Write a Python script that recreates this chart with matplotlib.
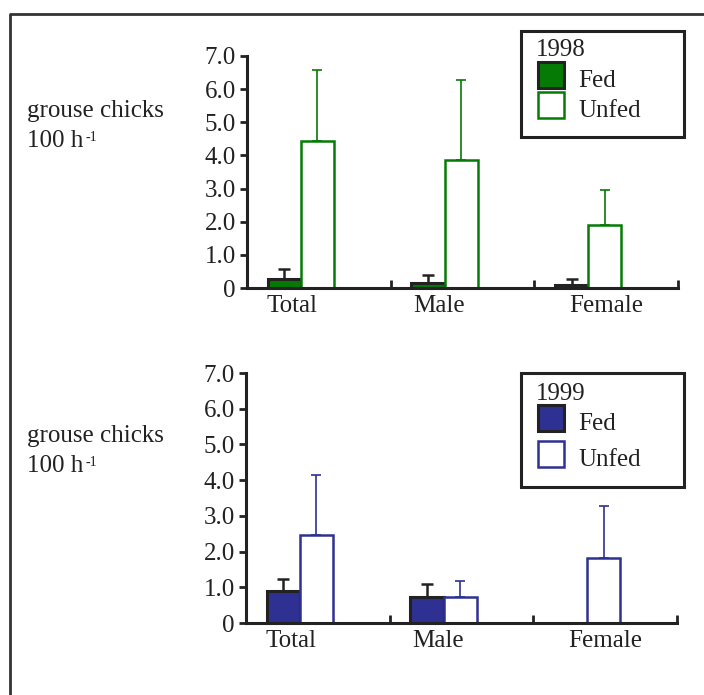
import matplotlib.pyplot as plt
import numpy as np
from matplotlib.patches import Rectangle
from matplotlib.lines import Line2D

plt.rcParams['font.family'] = ['Liberation Serif', 'DejaVu Serif']

categories = ['Total', 'Male', 'Female']
yticks = [0, 1, 2, 3, 4, 5, 6, 7]
ytick_labels = ['0', '1.0', '2.0', '3.0', '4.0', '5.0', '6.0', '7.0']

# 1998
fed_1998 = [0.28, 0.16, 0.10]
fed_1998_se = [0.29, 0.22, 0.17]
unfed_1998 = [4.44, 3.85, 1.89]
unfed_1998_se = [2.15, 2.44, 1.06]

# 1999 (no fed females seen)
fed_1999 = [0.89, 0.74, 0.0]
fed_1999_se = [0.34, 0.36, 0.0]
unfed_1999 = [2.46, 0.74, 1.81]
unfed_1999_se = [1.68, 0.43, 1.46]

W, H = 704, 695
GREEN = '#057a05'
BLUE = '#2e3192'
DARK = '#222222'

fig = plt.figure(figsize=(W / 100, H / 100), dpi=100)


def fx(x):
    return x / W


def fy(y):
    return 1 - y / H


def draw_panel(rect, fed, fed_se, unfed, unfed_se, color, year, legend_px, text_px):
    ax = fig.add_axes(rect)
    x = np.arange(len(categories))
    width = 0.23
    xf = x + 0.145 + width / 2
    xu = xf + width
    show = np.array(fed) > 0
    ax.bar(xf[show], np.array(fed)[show], width, color=color, edgecolor=DARK,
           linewidth=2.2, zorder=2)
    ax.bar(xu, unfed, width, color='white', edgecolor=color, linewidth=1.8, zorder=2)
    ax.errorbar(xf[show], np.array(fed)[show],
                yerr=[np.zeros(show.sum()), np.array(fed_se)[show]],
                fmt='none', ecolor=DARK, elinewidth=1.8, capsize=4, capthick=1.8, zorder=1)
    ax.errorbar(xu, unfed, yerr=[np.zeros(len(unfed)), unfed_se],
                fmt='none', ecolor=color, elinewidth=1.2, capsize=3.5, capthick=1.2, zorder=1)

    ax.set_xlim(0, 3)
    ax.set_ylim(0, 7)
    for s in ['top', 'right']:
        ax.spines[s].set_visible(False)
    for s in ['left', 'bottom']:
        ax.spines[s].set_linewidth(2.2)
        ax.spines[s].set_color(DARK)
        ax.spines[s].set_zorder(3)
    ax.set_yticks(yticks)
    ax.set_yticklabels(ytick_labels, fontsize=18, color=DARK)
    ax.tick_params(axis='y', direction='out', length=5, width=2, color=DARK, pad=3)
    ax.set_xticks([1, 2, 3])
    ax.set_xticklabels([])
    ax.tick_params(axis='x', which='major', direction='in', length=6, width=2, color=DARK)
    ax.set_xticks([0.313, 1.336, 2.498], minor=True)
    ax.set_xticklabels(categories, minor=True, fontsize=18, color=DARK)
    ax.tick_params(axis='x', which='minor', length=0, pad=5)

    # legend box
    lx0, ly0, lx1, ly1, ty, fedy, unfy = legend_px
    fig.add_artist(Rectangle((fx(lx0), fy(ly1)), fx(lx1 - lx0), (ly1 - ly0) / H,
                             transform=fig.transFigure, fill=False,
                             edgecolor=DARK, linewidth=2.2))
    fig.text(fx(536), fy(ty), year, fontsize=18, color=DARK, va='baseline')
    fig.add_artist(Rectangle((fx(538), fy(fedy + 1)), fx(26), 26 / H,
                             transform=fig.transFigure, facecolor=color,
                             edgecolor=DARK, linewidth=2.2))
    fig.add_artist(Rectangle((fx(538), fy(unfy + 1)), fx(26), 26 / H,
                             transform=fig.transFigure, facecolor='white',
                             edgecolor=color, linewidth=1.8))
    fig.text(fx(578), fy(fedy), 'Fed', fontsize=18, color=DARK, va='baseline')
    fig.text(fx(578), fy(unfy), 'Unfed', fontsize=18, color=DARK, va='baseline')

    # y label
    y1, y2 = text_px
    fig.text(fx(27), fy(y1), 'grouse chicks', fontsize=18, color=DARK, va='baseline')
    fig.text(fx(27), fy(y2), '100 h', fontsize=18, color=DARK, va='baseline')
    fig.text(fx(85), fy(y2 - 6), '-1', fontsize=10, color=DARK, va='baseline')
    return ax


draw_panel([247 / W, 1 - 288 / H, 431 / W, 232 / H],
           fed_1998, fed_1998_se, unfed_1998, unfed_1998_se, GREEN, '1998',
           (521, 31, 684, 137, 56, 87, 117), (117, 147))
draw_panel([246 / W, 1 - 623 / H, 431 / W, 250 / H],
           fed_1999, fed_1999_se, unfed_1999, unfed_1999_se, BLUE, '1999',
           (521, 373, 684, 487, 400, 430, 466), (442, 472))

# outer frame (left and top edges)
fig.add_artist(Line2D([fx(10), fx(10), fx(704)], [fy(695), fy(14), fy(14)],
                      transform=fig.transFigure, color='#333333', linewidth=2))

fig.savefig('out.png', dpi=100)
